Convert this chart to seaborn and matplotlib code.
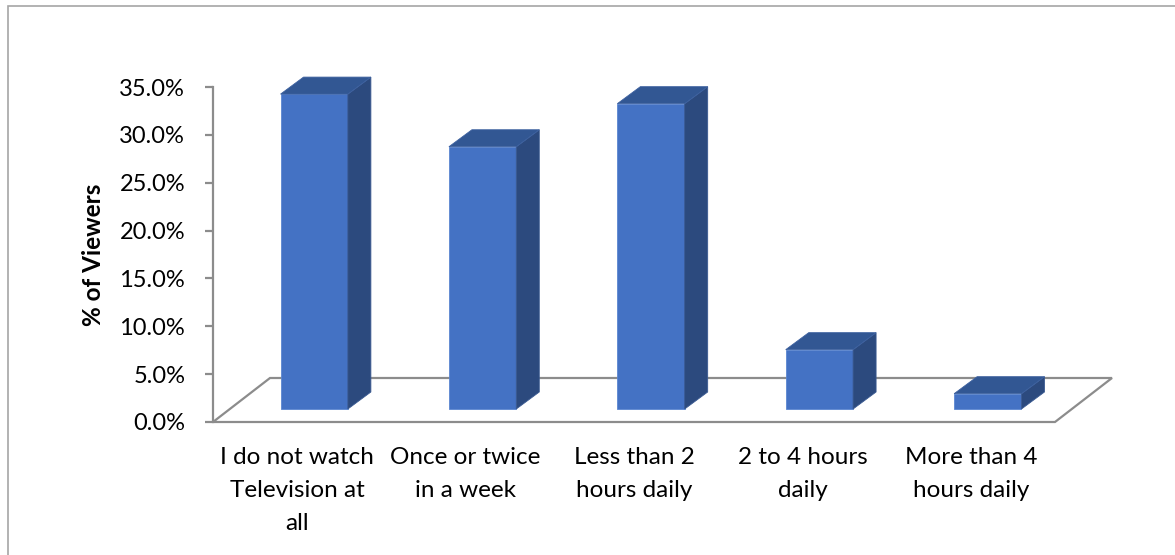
import pandas as pd
import seaborn as sns
import matplotlib.pyplot as plt
from matplotlib.patches import Polygon, Rectangle
from matplotlib.transforms import ScaledTranslation

# data
categories = ["I do not watch\nTelevision at\nall", "Once or twice\nin a week",
              "Less than 2\nhours daily", "2 to 4 hours\ndaily", "More than 4\nhours daily"]
viewers_pct = [32.9, 27.4, 31.9, 6.2, 1.6]
y_ticks = [0, 5, 10, 15, 20, 25, 30, 35]

df = pd.DataFrame({"category": categories, "pct": viewers_pct})

sns.set_theme(style="white")
plt.rcParams['font.family'] = ['Lato', 'DejaVu Sans']

W, H = 1175, 555
fig = plt.figure(figsize=(W / 100, H / 100), dpi=100)
ax = fig.add_axes([213 / W, 133 / H, 842 / W, 335 / H])

sns.barplot(data=df, x="category", y="pct", color="#4472C4", width=0.4,
            saturation=1, ax=ax, zorder=3)
ax.set_xlim(-0.5, 4.5)
ax.set_ylim(0, 35)

# pixels per data unit, to turn the 3d offsets into data units
px_x = 842 / 5
px_y = 335 / 35
grey = "#8C8C8C"

# floor of the 3d plot
floor_dx, floor_dy = 57 / px_x, 44 / px_y
floor = Polygon([(-0.5, 0), (4.5, 0), (4.5 + floor_dx, floor_dy), (-0.5 + floor_dx, floor_dy)],
                closed=True, fill=False, edgecolor=grey, lw=1.6, clip_on=False, zorder=1)
ax.add_patch(floor)

# bars sit in the middle of the floor depth, with side and top faces
shift = ax.transData + ScaledTranslation(17 / 100, 13 / 100, fig.dpi_scale_trans)
ddx, ddy = 23 / px_x, 17 / px_y
for p in list(ax.patches):
    if p is floor:
        continue
    p.set_transform(shift)
    p.set_clip_on(False)
    p.set_edgecolor("#5B86D1")
    p.set_linewidth(0.6)
    x0, w, h = p.get_x(), p.get_width(), p.get_height()
    side = Polygon([(x0 + w, 0), (x0 + w + ddx, ddy), (x0 + w + ddx, h + ddy), (x0 + w, h)],
                   closed=True, facecolor="#2C4A7E", edgecolor="#3A5A92", lw=0.6,
                   transform=shift, clip_on=False, zorder=3)
    top = Polygon([(x0, h), (x0 + ddx, h + ddy), (x0 + w + ddx, h + ddy), (x0 + w, h)],
                  closed=True, facecolor="#325793", edgecolor="#3D61A0", lw=0.6,
                  transform=shift, clip_on=False, zorder=3)
    ax.add_patch(side)
    ax.add_patch(top)

for s in ["top", "right", "bottom"]:
    ax.spines[s].set_visible(False)
ax.spines["left"].set_color(grey)
ax.spines["left"].set_linewidth(1.6)

ax.set_yticks(y_ticks)
ax.set_yticklabels([f"{v:.1f}%" for v in y_ticks])
ax.tick_params(axis="y", left=True, length=6, width=1.6, color=grey, pad=14,
               labelsize=17, labelcolor="black")
ax.tick_params(axis="x", length=0, pad=18, labelsize=17.5, labelcolor="black")
for t in ax.get_xticklabels():
    t.set_linespacing(1.7)

ax.set_xlabel("")
ax.set_ylabel("% of Viewers", fontsize=17.5, fontweight="bold", color="black", labelpad=10)

# chart area border
fig.patches.append(Rectangle((8 / W, -0.1), 2, 1.1 - 6 / H, transform=fig.transFigure,
                             fill=False, edgecolor="#A6A6A6", lw=1.2))

fig.savefig("out.png", dpi=100)
